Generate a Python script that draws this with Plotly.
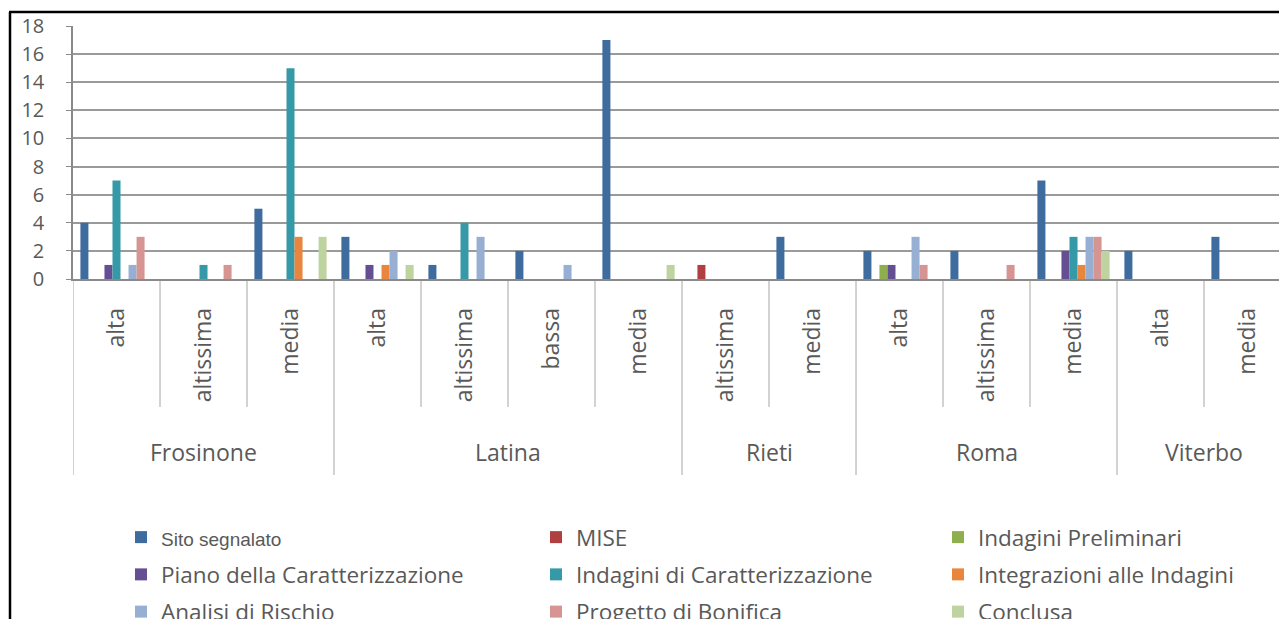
import plotly.graph_objects as go

# ---------------- data ----------------
groups = ["Frosinone", "Latina", "Rieti", "Roma", "Viterbo"]
group_sizes = [3, 4, 2, 3, 2]
subcats = ["alta", "altissima", "media",
           "alta", "altissima", "bassa", "media",
           "altissima", "media",
           "alta", "altissima", "media",
           "alta", "media"]

series_names = ["Sito segnalato", "MISE", "Indagini Preliminari",
                "Piano della Caratterizzazione", "Indagini di Caratterizzazione",
                "Integrazioni alle Indagini", "Analisi di Rischio",
                "Progetto di Bonifica", "Conclusa"]

sito_segnalato = [4, 0, 5, 3, 1, 2, 17, 0, 3, 2, 2, 7, 2, 3]
mise = [0, 0, 0, 0, 0, 0, 0, 1, 0, 0, 0, 0, 0, 0]
indagini_preliminari = [0, 0, 0, 0, 0, 0, 0, 0, 0, 1, 0, 0, 0, 0]
piano_caratterizzazione = [1, 0, 0, 1, 0, 0, 0, 0, 0, 1, 0, 2, 0, 0]
indagini_caratterizzazione = [7, 1, 15, 0, 4, 0, 0, 0, 0, 0, 0, 3, 0, 0]
integrazioni_indagini = [0, 0, 3, 1, 0, 0, 0, 0, 0, 0, 0, 1, 0, 0]
analisi_rischio = [1, 0, 0, 2, 3, 1, 0, 0, 0, 3, 0, 3, 0, 0]
progetto_bonifica = [3, 1, 0, 0, 0, 0, 0, 0, 0, 1, 1, 3, 0, 0]
conclusa = [0, 0, 3, 1, 0, 0, 1, 0, 0, 0, 0, 2, 0, 0]

series_values = [sito_segnalato, mise, indagini_preliminari,
                 piano_caratterizzazione, indagini_caratterizzazione,
                 integrazioni_indagini, analisi_rischio,
                 progetto_bonifica, conclusa]

colors = ["#3E6C9E", "#B0403F", "#8FAE4E", "#654F92", "#3599A8",
          "#E8863E", "#97AFD3", "#D69593", "#BFD3A0"]

y_ticks = [0, 2, 4, 6, 8, 10, 12, 14, 16, 18]

# ---------------- geometry (reference pixel coords) ----------------
FONT = "Open Sans"
TXT = "#595959"
OFF = 8                      # default page body margin
REF_W, REF_H = 1287, 619
W, H = REF_W - OFF, REF_H - OFF
PLOT_L, PLOT_T, PLOT_B = 73, 26, 279   # reference pixels
ML = PLOT_L - OFF
MT = PLOT_T - OFF
MB = H - (PLOT_B - OFF)
plot_w = W - ML
plot_h = H - MT - MB
cat_px = 87.0
x_end = -0.5 + plot_w / cat_px

def py(ref_y):
    return (PLOT_B - ref_y) / plot_h

def px(ref_x):
    return (ref_x - PLOT_L) / plot_w

x_idx = list(range(len(subcats)))
legend_of = ["legend", "legend2", "legend3"]

fig = go.Figure()
for i, (name, vals, col) in enumerate(zip(series_names, series_values, colors)):
    label = name
    if i == 0:
        label = '<span style="font-family:Arial;font-size:19px">' + name + '</span>'
    fig.add_trace(go.Bar(
        x=x_idx, y=vals, name=label, marker=dict(color=col, line=dict(width=0)),
        legend=legend_of[i % 3], legendgroup=name,
    ))

# dividers below the x axis
shapes = []
bounds_group = [-0.5]
inner = []
pos = -0.5
for gs in group_sizes:
    for k in range(1, gs):
        inner.append(pos + k)
    pos += gs
    bounds_group.append(pos)
for b in inner:
    shapes.append(dict(type="line", xref="x", yref="paper", x0=b, x1=b,
                       y0=py(281), y1=py(407), line=dict(color="#a6a6a6", width=1)))
for b in bounds_group:
    shapes.append(dict(type="line", xref="x", yref="paper", x0=b, x1=b,
                       y0=py(281), y1=py(475), line=dict(color="#a6a6a6", width=1)))
# outer chart border (top + left)
shapes.append(dict(type="line", xref="paper", yref="paper", x0=px(9), x1=px(1400),
                   y0=py(12), y1=py(12), line=dict(color="black", width=2.5)))
shapes.append(dict(type="line", xref="paper", yref="paper", x0=px(10), x1=px(10),
                   y0=py(12), y1=py(700), line=dict(color="black", width=2.5)))

annotations = []
start = 0
for g, gs in zip(groups, group_sizes):
    center = start + (gs - 1) / 2
    annotations.append(dict(text=g, x=center, xref="x", y=py(452), yref="paper",
                            showarrow=False, xanchor="center", yanchor="middle",
                            font=dict(family=FONT, size=23, color=TXT)))
    start += gs

legend_style = dict(font=dict(family=FONT, size=22.5, color=TXT), bgcolor="rgba(0,0,0,0)",
                    orientation="v", xanchor="left", yanchor="top",
                    tracegroupgap=5, traceorder="grouped", itemclick=False)

fig.update_layout(
    width=W, height=H,
    margin=dict(l=ML, r=0, t=MT, b=MB, autoexpand=False),
    paper_bgcolor="white", plot_bgcolor="white",
    barmode="group", bargap=0.17, bargroupgap=0,
    font=dict(family=FONT, color=TXT),
    xaxis=dict(range=[-0.5, x_end], tickmode="array", tickvals=x_idx, ticktext=subcats,
               tickangle=-90, ticks="", showgrid=False, zeroline=False,
               showline=True, linecolor="#8a8a8a", linewidth=1.5,
               tickfont=dict(family=FONT, size=23, color=TXT), ticklabelstandoff=18),
    yaxis=dict(range=[0, 18], tickmode="array", tickvals=y_ticks,
               showgrid=True, gridcolor="#9a9a9a", gridwidth=1.5,
               zeroline=False, showline=True, linecolor="#8a8a8a", linewidth=1.5,
               ticks="outside", ticklen=5, tickcolor="#8a8a8a",
               tickfont=dict(family=FONT, size=20, color=TXT), ticklabelstandoff=18),
    shapes=shapes, annotations=annotations,
    legend=dict(x=px(121), y=py(516), **legend_style),
    legend2=dict(x=px(536), y=py(516), **legend_style),
    legend3=dict(x=px(938), y=py(516), **legend_style),
    showlegend=True,
)

fig.write_html("out.html")
